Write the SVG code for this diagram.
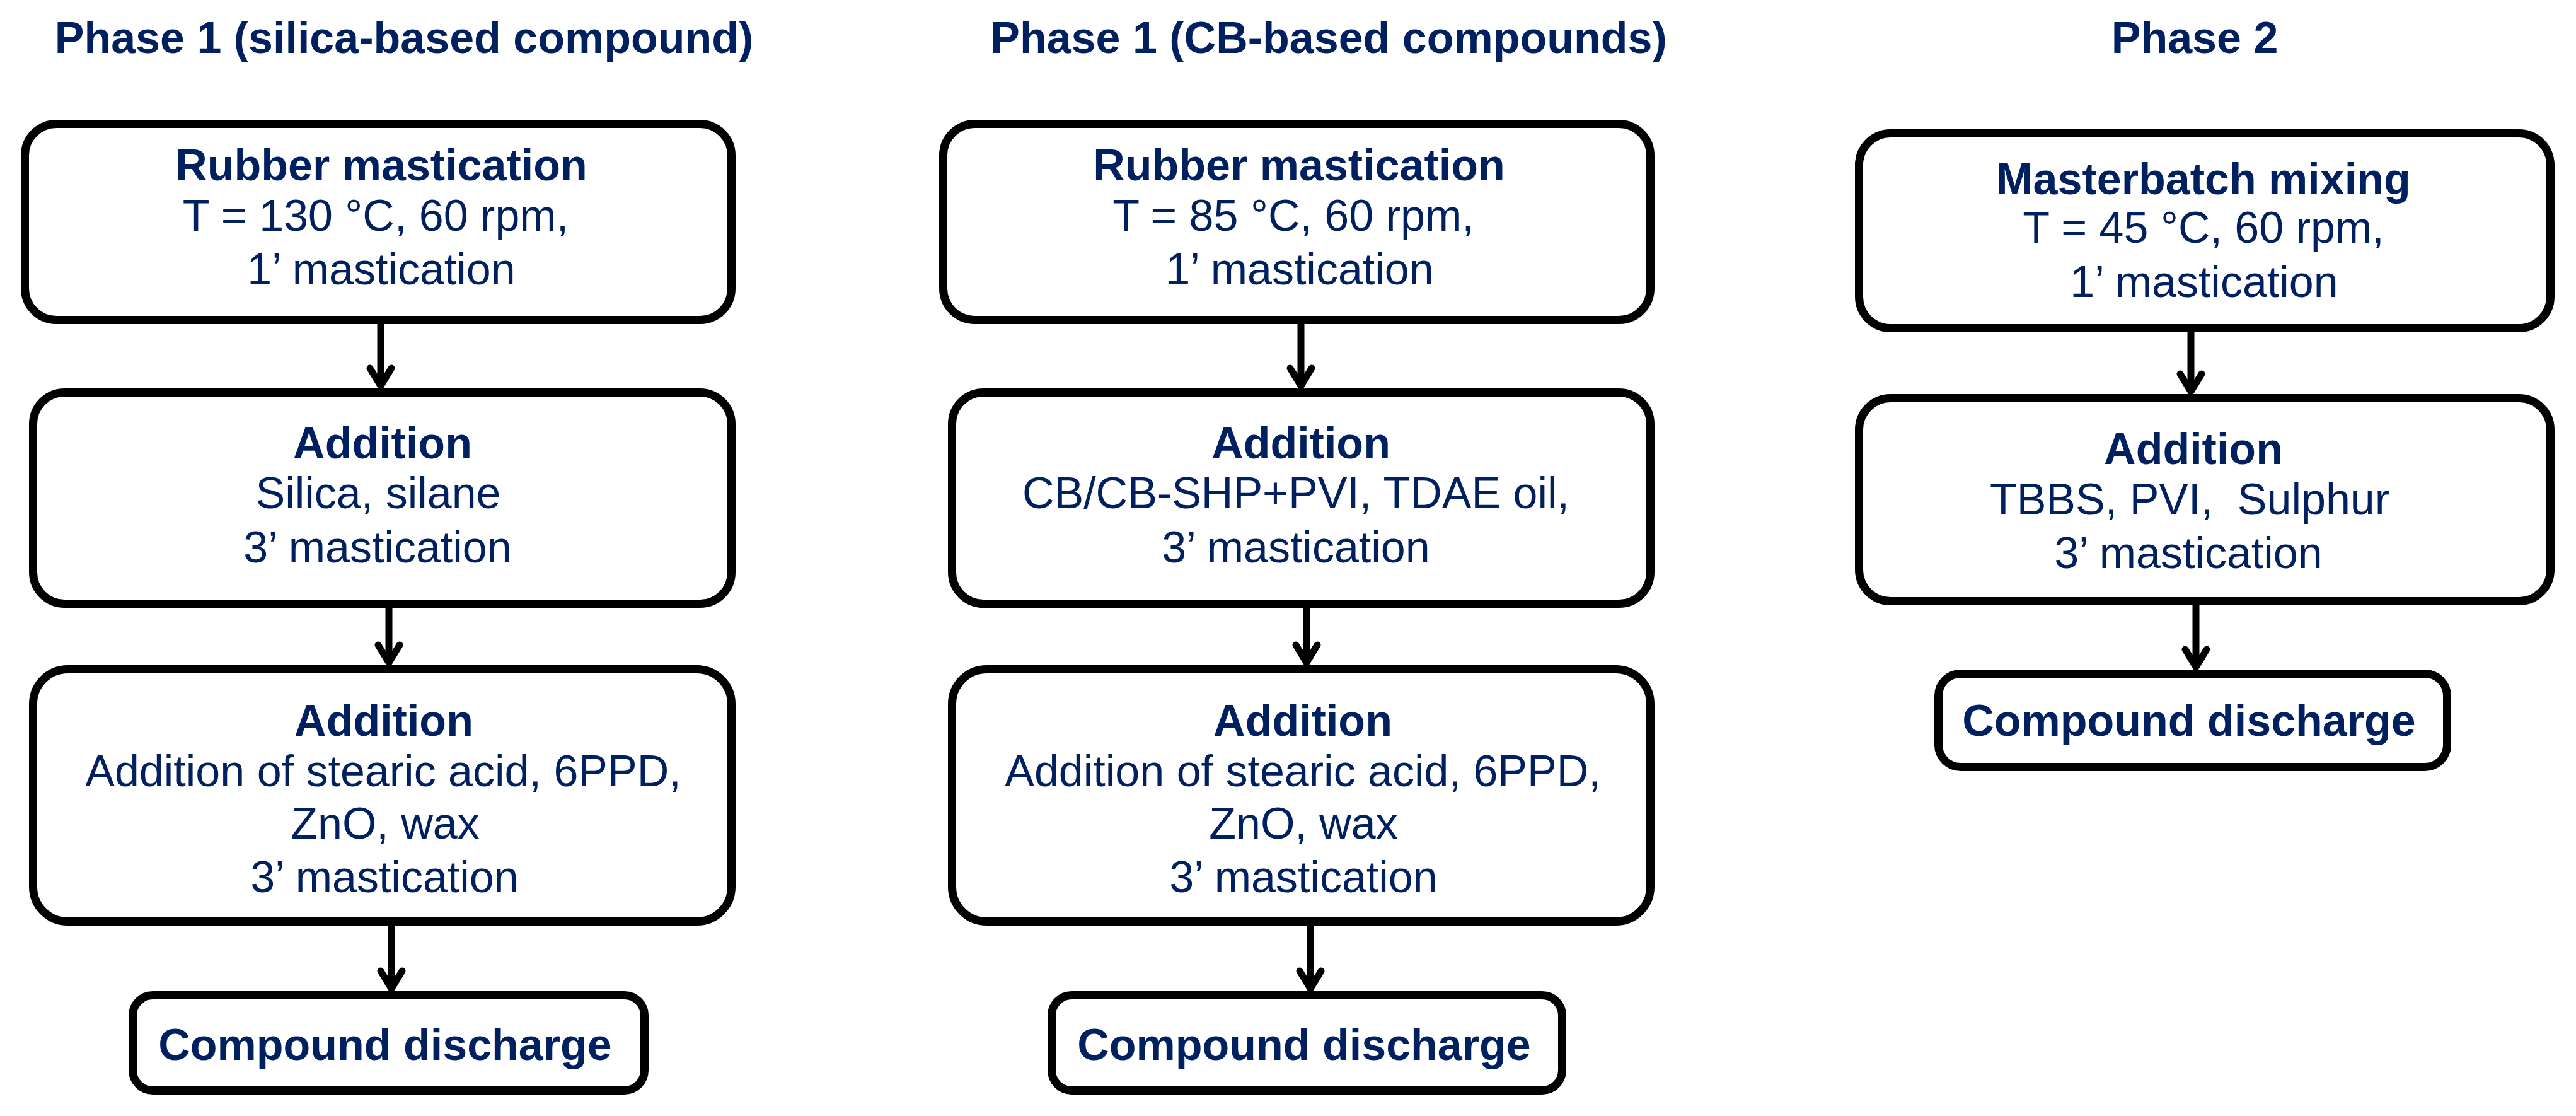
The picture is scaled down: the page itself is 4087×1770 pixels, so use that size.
<svg xmlns="http://www.w3.org/2000/svg" width="4087" height="1770" viewBox="0 0 4087 1770">
<style>
text{font-family:"Liberation Sans",Arial,sans-serif;font-size:70px;fill:#002060;text-anchor:middle}
.b{font-weight:bold}
.box{fill:#fff;stroke:#000;stroke-width:13}
.conn{stroke:#000;stroke-width:11;fill:none}
</style>
<defs>
<marker id="arr" markerUnits="userSpaceOnUse" orient="auto" refX="0" refY="0" markerWidth="60" markerHeight="60" viewBox="-40 -30 60 60" overflow="visible">
<path d="M-28,-17 L0,0 L-28,17" fill="none" stroke="#000" stroke-width="11" stroke-linecap="round" stroke-linejoin="round"/>
</marker>
</defs>
<rect width="4087" height="1770" fill="#fff"/>
<g id="titles">
<text class="b" x="641" y="84">Phase 1 (silica-based compound)</text>
<text class="b" x="2108" y="84">Phase 1 (CB-based compounds)</text>
<text class="b" x="3482" y="84">Phase 2</text>
</g>
<g id="connectors">
<line class="conn" x1="604" y1="514" x2="604" y2="612" marker-end="url(#arr)"/>
<line class="conn" x1="617" y1="964" x2="617" y2="1051" marker-end="url(#arr)"/>
<line class="conn" x1="621" y1="1468" x2="621" y2="1568" marker-end="url(#arr)"/>
<line class="conn" x1="2064" y1="514" x2="2064" y2="612" marker-end="url(#arr)"/>
<line class="conn" x1="2073" y1="964" x2="2073" y2="1051" marker-end="url(#arr)"/>
<line class="conn" x1="2079" y1="1468" x2="2079" y2="1568" marker-end="url(#arr)"/>
<line class="conn" x1="3476" y1="527" x2="3476" y2="621" marker-end="url(#arr)"/>
<line class="conn" x1="3484" y1="960" x2="3484" y2="1058" marker-end="url(#arr)"/>
</g>
<g id="s1-mastication">
<rect class="box" x="39.5" y="196.5" width="1121" height="311" rx="50"/>
<text class="b" x="605" y="286">Rubber mastication</text>
<text x="596" y="366">T = 130 °C, 60 rpm,</text>
<text x="605" y="451">1’ mastication</text>
</g>
<g id="s1-addition1">
<rect class="box" x="52.5" y="622.5" width="1108" height="335" rx="50"/>
<text class="b" x="607" y="727">Addition</text>
<text x="600" y="806">Silica, silane</text>
<text x="599" y="892">3’ mastication</text>
</g>
<g id="s1-addition2">
<rect class="box" x="52.5" y="1061.5" width="1108" height="400" rx="55"/>
<text class="b" x="609" y="1167">Addition</text>
<text x="608" y="1247">Addition of stearic acid, 6PPD,</text>
<text x="611" y="1330">ZnO, wax</text>
<text x="610" y="1415">3’ mastication</text>
</g>
<g id="s1-discharge">
<rect class="box" x="210.5" y="1578.5" width="812" height="151" rx="32"/>
<text class="b" x="611" y="1681">Compound discharge</text>
</g>
<g id="cb-mastication">
<rect class="box" x="1496.5" y="196.5" width="1122" height="311" rx="50"/>
<text class="b" x="2061" y="286">Rubber mastication</text>
<text x="2052" y="366">T = 85 °C, 60 rpm,</text>
<text x="2062" y="451">1’ mastication</text>
</g>
<g id="cb-addition1">
<rect class="box" x="1510.5" y="622.5" width="1108" height="335" rx="50"/>
<text class="b" x="2064" y="727">Addition</text>
<text x="2056" y="806">CB/CB-SHP+PVI, TDAE oil,</text>
<text x="2056" y="892">3’ mastication</text>
</g>
<g id="cb-addition2">
<rect class="box" x="1510.5" y="1061.5" width="1108" height="400" rx="55"/>
<text class="b" x="2067" y="1167">Addition</text>
<text x="2067" y="1247">Addition of stearic acid, 6PPD,</text>
<text x="2068" y="1330">ZnO, wax</text>
<text x="2068" y="1415">3’ mastication</text>
</g>
<g id="cb-discharge">
<rect class="box" x="1668.5" y="1578.5" width="810" height="151" rx="32"/>
<text class="b" x="2069" y="1681">Compound discharge</text>
</g>
<g id="p2-masterbatch">
<rect class="box" x="2949.5" y="211.5" width="1097" height="309" rx="50"/>
<text class="b" x="3496" y="308">Masterbatch mixing</text>
<text x="3496" y="385">T = 45 °C, 60 rpm,</text>
<text x="3497" y="471">1’ mastication</text>
</g>
<g id="p2-addition">
<rect class="box" x="2949.5" y="631.5" width="1097" height="322" rx="50"/>
<text class="b" x="3480" y="736">Addition</text>
<text x="3474" y="816" xml:space="preserve">TBBS, PVI,  Sulphur</text>
<text x="3472" y="901">3’ mastication</text>
</g>
<g id="p2-discharge">
<rect class="box" x="3075.5" y="1068.5" width="807" height="148" rx="35"/>
<text class="b" x="3473" y="1167">Compound discharge</text>
</g>
</svg>
